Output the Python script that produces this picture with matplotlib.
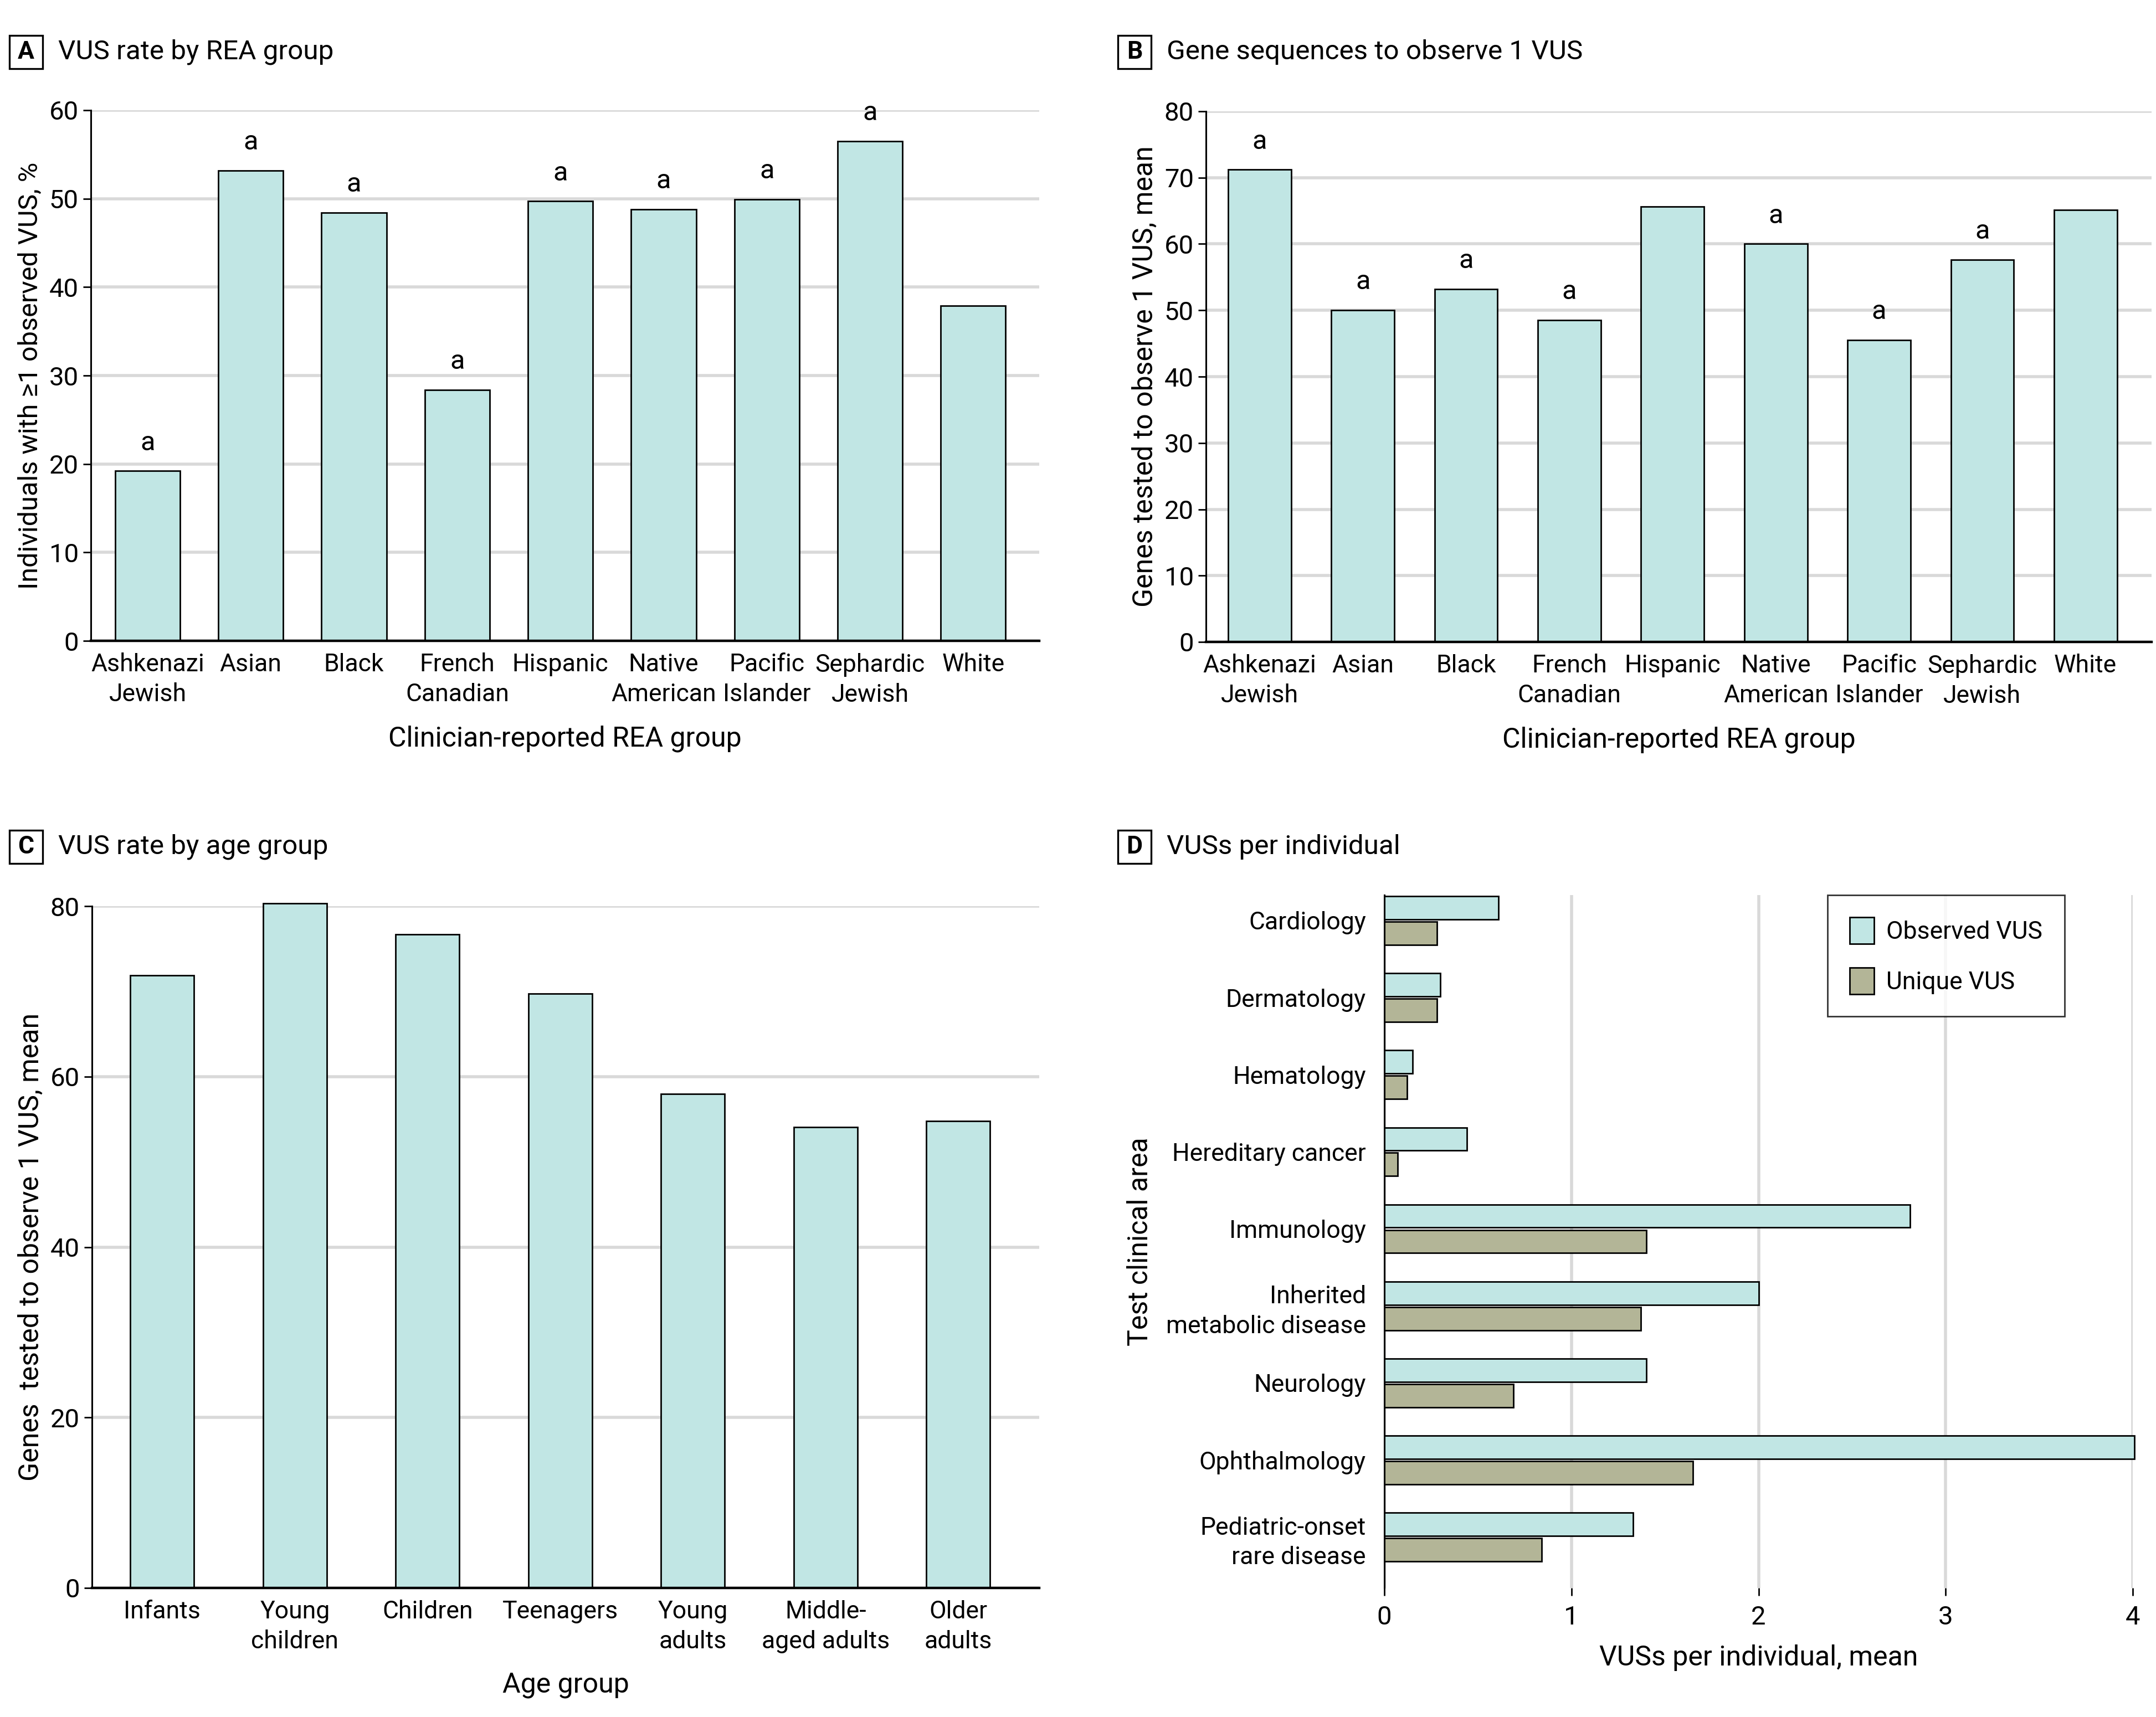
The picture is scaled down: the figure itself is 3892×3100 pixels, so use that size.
import matplotlib
matplotlib.use("Agg")
import matplotlib.pyplot as plt
from matplotlib.patches import Rectangle
import numpy as np

plt.rcParams['font.family'] = ['Roboto', 'DejaVu Sans']

# ---------------- data ----------------
rea_groups = ["Ashkenazi\nJewish", "Asian", "Black", "French\nCanadian", "Hispanic",
              "Native\nAmerican", "Pacific\nIslander", "Sephardic\nJewish", "White"]
vus_rate_pct = [19.2, 53.2, 48.4, 28.4, 49.7, 48.8, 49.9, 56.5, 37.9]
vus_rate_sig = [True, True, True, True, True, True, True, True, False]

genes_per_vus_rea = [71.2, 50.0, 53.2, 48.5, 65.6, 60.0, 45.5, 57.6, 65.1]
genes_per_vus_rea_sig = [True, True, True, True, False, True, True, True, False]

age_groups = ["Infants", "Young\nchildren", "Children", "Teenagers", "Young\nadults",
              "Middle-\naged adults", "Older\nadults"]
genes_per_vus_age = [71.9, 80.3, 76.7, 69.7, 58.0, 54.1, 54.8]

clinical_areas = ["Cardiology", "Dermatology", "Hematology", "Hereditary cancer",
                  "Immunology", "Inherited\nmetabolic disease", "Neurology",
                  "Ophthalmology", "Pediatric-onset\nrare disease"]
observed_vus = [0.61, 0.30, 0.15, 0.44, 2.81, 2.00, 1.40, 4.01, 1.33]
unique_vus = [0.28, 0.28, 0.12, 0.07, 1.40, 1.37, 0.69, 1.65, 0.84]

# ---------------- style ----------------
TEAL = "#c1e6e4"
OLIVE = "#b3b597"
GRID = "#d9d9d9"
FS = 16
XL = 18
YL = 17.5
LS = 1.35

W, H = 3892, 3100
fig = plt.figure(figsize=(W / 200, H / 200), dpi=200)


def fx(px):
    return px / W


def fy(py):
    return 1 - py / H


def add_axes(l, t, r, b):
    return fig.add_axes([fx(l), fy(b), fx(r) - fx(l), fy(t) - fy(b)])


def panel_title(letter, title, x_box, y_center):
    s = 60
    fig.patches.append(Rectangle((fx(x_box), fy(y_center + s / 2)), fx(s), s / H,
                                 transform=fig.transFigure, fill=False,
                                 edgecolor="black", lw=1.2))
    fig.text(fx(x_box + s / 2), fy(y_center), letter, ha="center", va="center",
             fontsize=FS, fontweight="bold")
    fig.text(fx(x_box + s + 28), fy(y_center), title, ha="left", va="center",
             fontsize=FS + 1.8)


def style_vbar(ax):
    for s in ["top", "right"]:
        ax.spines[s].set_visible(False)
    ax.spines["left"].set_linewidth(1.1)
    ax.spines["bottom"].set_linewidth(1.6)
    ax.yaxis.grid(True, color=GRID, lw=2.0)
    ax.set_axisbelow(True)
    ax.tick_params(axis="y", length=5, width=1.0, labelsize=FS + 1, pad=3)
    ax.tick_params(axis="x", length=0, labelsize=FS, pad=8)


# ---------------- Panel A ----------------
axA = add_axes(164, 199, 1876, 1157)
xA = np.arange(len(rea_groups))
axA.bar(xA, vus_rate_pct, width=0.63, color=TEAL, edgecolor="black", lw=1.0, zorder=2)
axA.set_xlim(-0.55, len(rea_groups) - 1 + 0.64)
axA.set_ylim(0, 60)
axA.set_yticks(np.arange(0, 61, 10))
axA.set_xticks(xA)
axA.set_xticklabels(rea_groups, linespacing=LS)
style_vbar(axA)
for xi, v, sig in zip(xA, vus_rate_pct, vus_rate_sig):
    if sig:
        axA.annotate("a", (xi, v), xytext=(0, 10), textcoords="offset points",
                     ha="center", va="bottom", fontsize=FS + 1.5)
axA.set_xlabel("Clinician-reported REA group", fontsize=XL, labelpad=12)
axA.set_ylabel("Individuals with \u22651 observed VUS, %", fontsize=YL, labelpad=4)
panel_title("A", "VUS rate by REA group", 17, 94)

# ---------------- Panel B ----------------
axB = add_axes(2177, 201, 3884, 1159)
axB.bar(xA, genes_per_vus_rea, width=0.61, color=TEAL, edgecolor="black", lw=1.0, zorder=2)
axB.set_xlim(-0.52, len(rea_groups) - 1 + 0.64)
axB.set_ylim(0, 80)
axB.set_yticks(np.arange(0, 81, 10))
axB.set_xticks(xA)
axB.set_xticklabels(rea_groups, linespacing=LS)
style_vbar(axB)
for xi, v, sig in zip(xA, genes_per_vus_rea, genes_per_vus_rea_sig):
    if sig:
        axB.annotate("a", (xi, v), xytext=(0, 10), textcoords="offset points",
                     ha="center", va="bottom", fontsize=FS + 1.5)
axB.set_xlabel("Clinician-reported REA group", fontsize=XL, labelpad=12)
axB.set_ylabel("Genes tested to observe 1 VUS, mean", fontsize=YL + 0.5, labelpad=4)
panel_title("B", "Gene sequences to observe 1 VUS", 2018, 94)

# ---------------- Panel C ----------------
axC = add_axes(166, 1636, 1876, 2867)
xC = np.arange(len(age_groups))
axC.bar(xC, genes_per_vus_age, width=0.48, color=TEAL, edgecolor="black", lw=1.0,
        zorder=2, clip_on=False)
axC.set_xlim(-0.53, len(age_groups) - 1 + 0.61)
axC.set_ylim(0, 80)
axC.set_yticks(np.arange(0, 81, 20))
axC.set_xticks(xC)
axC.set_xticklabels(age_groups, linespacing=LS)
style_vbar(axC)
axC.set_xlabel("Age group", fontsize=XL, labelpad=12)
axC.set_ylabel("Genes  tested to observe 1 VUS, mean", fontsize=YL + 0.5, labelpad=4)
panel_title("C", "VUS rate by age group", 17, 1529)

# ---------------- Panel D ----------------
axD = add_axes(2499, 1616, 3850, 2867)
yD = np.arange(len(clinical_areas))
bh = 0.30
axD.barh(yD - 0.165, observed_vus, height=bh, color=TEAL, edgecolor="black", lw=1.0,
         zorder=2, label="Observed VUS", clip_on=False)
axD.barh(yD + 0.165, unique_vus, height=bh, color=OLIVE, edgecolor="black", lw=1.0,
         zorder=2, label="Unique VUS")
axD.set_ylim(len(clinical_areas) - 1 + 0.66, -0.33)
axD.set_xlim(0, 4)
axD.set_xticks([0, 1, 2, 3, 4])
axD.set_yticks(yD)
axD.set_yticklabels(clinical_areas, linespacing=LS)
for s in ["top", "right", "bottom"]:
    axD.spines[s].set_visible(False)
axD.spines["left"].set_linewidth(1.1)
axD.xaxis.grid(True, color=GRID, lw=2.0)
axD.set_axisbelow(True)
axD.tick_params(axis="y", length=0, labelsize=FS, pad=12)
axD.tick_params(axis="x", length=5, width=1.0, labelsize=FS + 1, pad=6)
axD.set_xlabel("VUSs per individual, mean", fontsize=XL, labelpad=10)
axD.set_ylabel("Test clinical area", fontsize=YL + 0.5, labelpad=8)
leg = axD.legend(loc="upper left", bbox_to_anchor=(0.592, 1.0), fontsize=FS,
                 frameon=True, fancybox=False, edgecolor="black", borderpad=0.9,
                 handlelength=1.0, handleheight=1.3, labelspacing=0.95,
                 handletextpad=0.5, borderaxespad=0)
leg.get_frame().set_linewidth(1.0)
panel_title("D", "VUSs per individual", 2018, 1529)

fig.savefig("out.png", dpi=200)
